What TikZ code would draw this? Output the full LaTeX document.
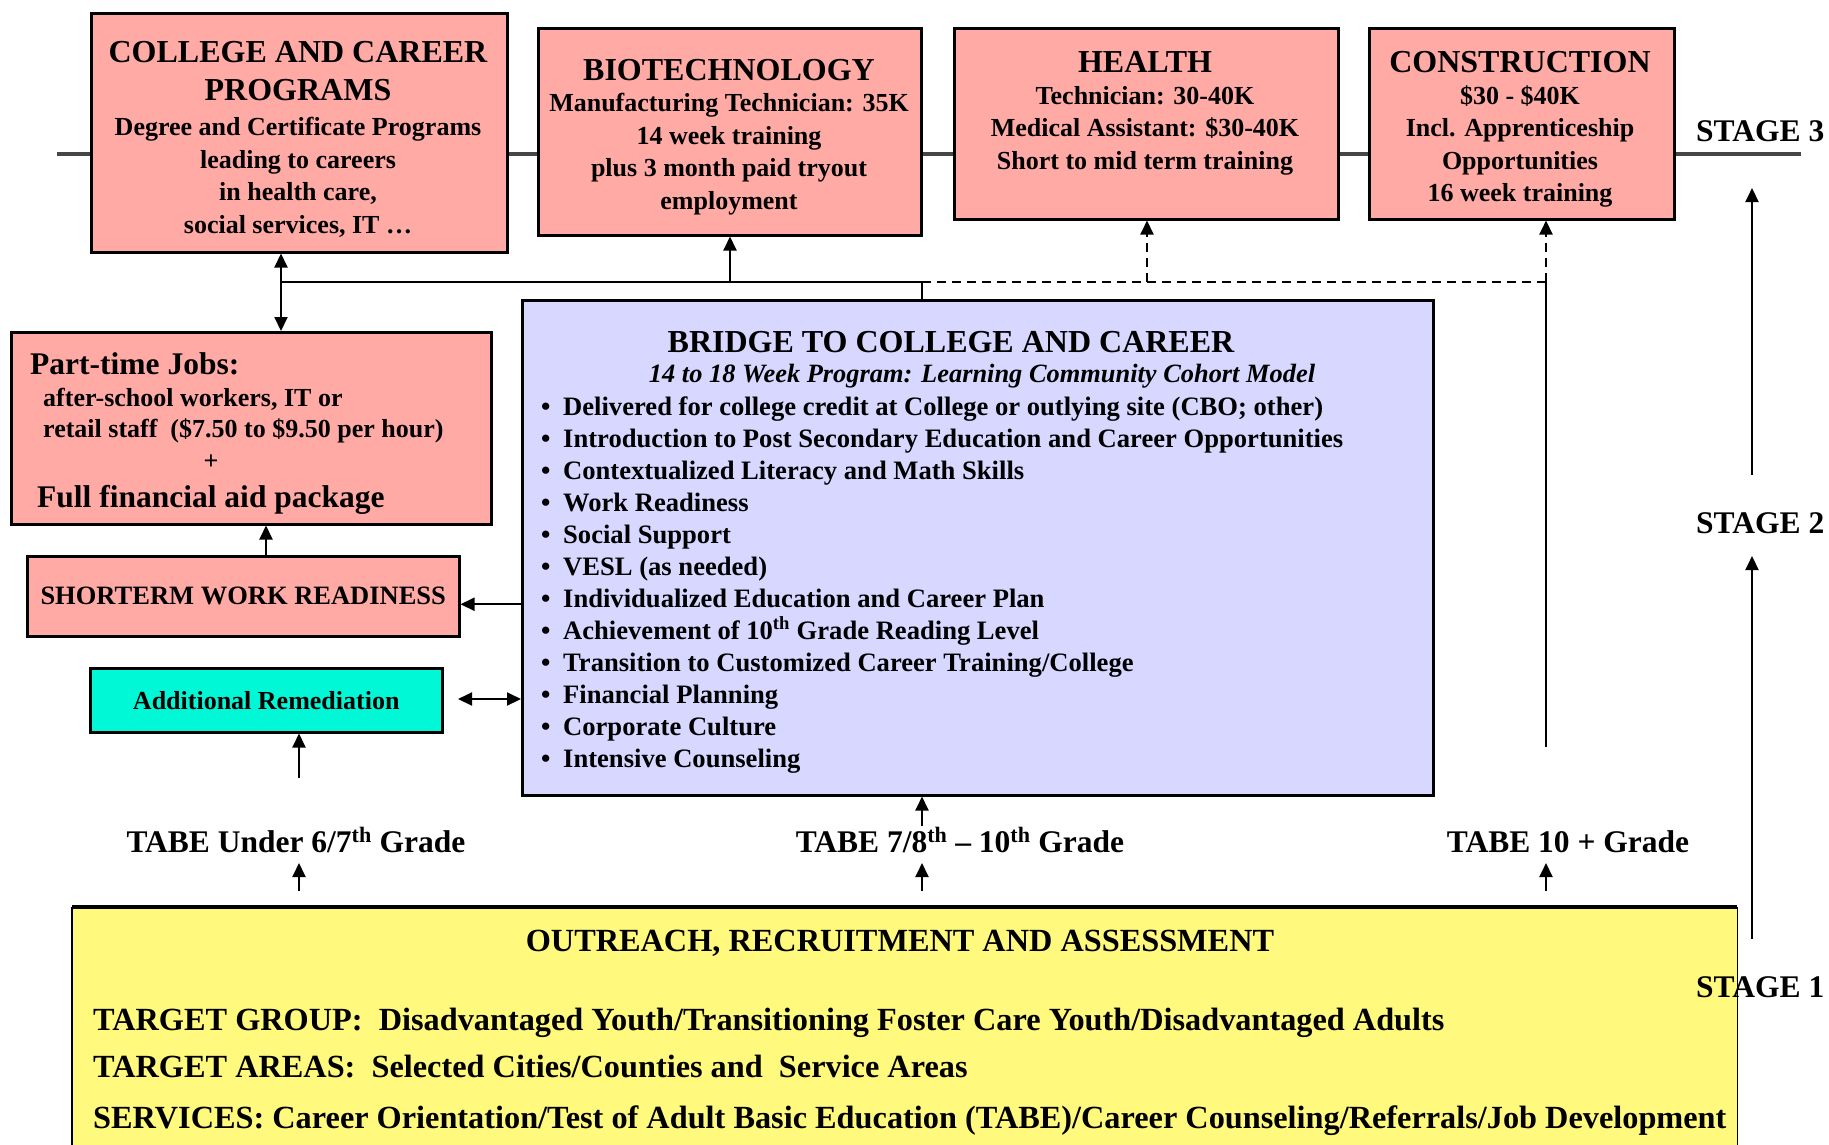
\documentclass[tikz,border=0pt]{standalone}
\usepackage{fontspec}
\setmainfont{Liberation Serif}
\usetikzlibrary{arrows.meta}
\definecolor{pinkc}{RGB}{255,170,165}
\definecolor{lavc}{RGB}{215,215,255}
\definecolor{yelc}{RGB}{255,250,125}
\definecolor{cyanc}{RGB}{0,248,215}
\definecolor{stagegray}{RGB}{70,70,70}
\tikzset{
  pbox/.style={draw=black, line width=2.5pt, fill=pinkc, inner sep=0pt, anchor=north west},
  ttl/.style={font=\fontsize{32}{38}\selectfont\bfseries, align=center, inner sep=0pt, anchor=north},
  bod/.style={font=\fontsize{26}{32.5}\selectfont\bfseries, align=center, inner sep=0pt, anchor=north},
  txt/.style={font=\fontsize{26}{32}\selectfont\bfseries, inner sep=0pt, anchor=base west},
  btxt/.style={font=\fontsize{26.6}{32}\selectfont\bfseries, inner sep=0pt, anchor=base west},
  big/.style={font=\fontsize{31.5}{38}\selectfont\bfseries, inner sep=0pt},
  ybig/.style={font=\fontsize{32.3}{38}\selectfont\bfseries, inner sep=0pt},
  conn/.style={line width=2pt, draw=black},
  arr/.style={conn, -{Triangle[length=14pt,width=13pt]}},
  darr/.style={conn, {Triangle[length=14pt,width=13pt]}-{Triangle[length=14pt,width=13pt]}},
  dasharr/.style={arr, dash pattern=on 9pt off 6pt},
}
\begin{document}
\begin{tikzpicture}[x=1pt,y=-1pt]
\useasboundingbox (0,0) rectangle (1829,1144);
\clip (0,0) rectangle (1829,1144);
\fill[white] (0,0) rectangle (1829,1144);

% stage 3 line
\coordinate (L0) at (57,154);
\coordinate (L1) at (1801,154);
\draw[stagegray, line width=3.5pt] (L0) -- (L1);

% top row boxes
\node[pbox, minimum width=416pt, minimum height=239pt] (college) at (90,12) {};
\node[pbox, minimum width=383pt, minimum height=207pt] (bio) at (537,27) {};
\node[pbox, minimum width=384pt, minimum height=191pt] (health) at (953,27) {};
\node[pbox, minimum width=305pt, minimum height=191pt] (constr) at (1368,27) {};

\node[ttl] (collegeT) at (298,41) {COLLEGE AND CAREER\\PROGRAMS};
\node[bod] (collegeB) at (298,117) {Degree and Certificate Programs\\leading to careers\\in health care,\\social services, IT …};
\node[ttl] (bioT) at (729,59) {BIOTECHNOLOGY};
\node[bod] (bioB) at (729,93) {Manufacturing Technician: 35K\\14 week training\\plus 3 month paid tryout\\employment};
\node[ttl] (healthT) at (1145,51) {HEALTH};
\node[bod] (healthB) at (1145,86) {Technician: 30-40K\\Medical Assistant: \$30-40K\\Short to mid term training};
\node[ttl] (constrT) at (1520,51) {CONSTRUCTION};
\node[bod] (constrB) at (1520,85) {\$30 - \$40K\\Incl. Apprenticeship\\Opportunities\\16 week training};

% stage labels
\node[big, anchor=base west] (st3) at (1696,141) {STAGE 3};
\node[big, anchor=base west] (st2) at (1696,533) {STAGE 2};

% left boxes
\node[pbox, minimum width=480pt, minimum height=192pt] (part) at (10,331) {};
\node[big, anchor=base west] (partT) at (30,374) {Part-time Jobs:};
\node[txt] (partA) at (43,406) {after-school workers, IT or};
\node[txt] (partB) at (43,437) {retail staff\ \ (\$7.50 to \$9.50 per hour)};
\node[txt, anchor=base] (partP) at (211,469) {+};
\node[big, anchor=base west] (partC) at (37,507) {Full financial aid package};

\node[pbox, minimum width=432pt, minimum height=80pt, font=\fontsize{26.5}{32}\selectfont\bfseries] (short) at (26,555) {SHORTERM WORK READINESS};
\node[pbox, fill=cyanc, minimum width=352pt, minimum height=64pt, font=\fontsize{26}{32}\selectfont\bfseries] (addl) at (89,667) {Additional Remediation};

% bridge box
\node[pbox, fill=lavc, minimum width=911pt, minimum height=495pt] (bridge) at (521,299) {};
\node[font=\fontsize{32}{38}\selectfont\bfseries, inner sep=0pt, anchor=base] (bridgeT) at (951,352) {BRIDGE TO COLLEGE AND CAREER};
\node[font=\fontsize{26.4}{32}\selectfont\bfseries\itshape, inner sep=0pt, anchor=base] (bridgeS) at (982,382) {14 to 18 Week Program: Learning Community Cohort Model};
\foreach \t [count=\i] in {
  {Delivered for college credit at College or outlying site (CBO; other)},
  {Introduction to Post Secondary Education and Career Opportunities},
  {Contextualized Literacy and Math Skills},
  {Work Readiness},
  {Social Support},
  {VESL (as needed)},
  {Individualized Education and Career Plan},
  {Achievement of 10\textsuperscript{th} Grade Reading Level},
  {Transition to Customized Career Training/College},
  {Financial Planning},
  {Corporate Culture},
  {Intensive Counseling}}
  \node[btxt] (b\i) at (541,{415+32*(\i-1)}) {\makebox[22pt][l]{\textbullet}\t};

% yellow box
\node[fill=yelc, inner sep=0pt, anchor=north west, minimum width=1665pt, minimum height=260pt] (yel) at (72,907) {};
\draw[line width=4pt] (yel.north west) -- (yel.north east);
\draw[line width=1.8pt] (yel.north west) -- (yel.south west);
\draw[line width=1.8pt] (yel.north east) -- (yel.south east);
\node[ybig, anchor=base] (yelT) at (900,951) {OUTREACH, RECRUITMENT AND ASSESSMENT};
\node[ybig, anchor=base west] (yelA) at (93,1030) {TARGET GROUP:\ \ Disadvantaged Youth/Transitioning Foster Care Youth/Disadvantaged Adults};
\node[ybig, anchor=base west] (yelB) at (93,1077) {TARGET AREAS:\ \ Selected Cities/Counties and\ \ Service Areas};
\node[ybig, anchor=base west] (yelC) at (93,1128) {SERVICES: Career Orientation/Test of Adult Basic Education (TABE)/Career Counseling/Referrals/Job Development};

\node[big, anchor=base west] (st1) at (1696,997) {STAGE 1};

% TABE labels
\node[big, anchor=base] (tabeA) at (296,852) {TABE Under 6/7\textsuperscript{th} Grade};
\node[big, anchor=base] (tabeB) at (960,852) {TABE 7/8\textsuperscript{th} – 10\textsuperscript{th} Grade};
\node[big, anchor=base] (tabeC) at (1568,852) {TABE 10 + Grade};

% connectors top
\coordinate (j1) at (281,282);
\coordinate (jb) at (730,282);
\coordinate (j2) at (922,282);
\coordinate (jh) at (1147,282);
\coordinate (jc) at (1546,282);
\coordinate (rc) at (1546,747);
\draw[conn] (j1) -- (j2);
\draw[conn, dash pattern=on 9pt off 6pt] (j2) -- (jc);
\draw[line width=1.3pt] (j2) -- (j2 |- bridge.north);
\draw[darr] (j1 |- college.south) -- (j1 |- part.north);
\draw[arr] (jb) -- (jb |- bio.south);
\draw[dasharr] (jh) -- (jh |- health.south);
\draw[dasharr] (jc) -- (jc |- constr.south);
\draw[line width=1.8pt] (rc) -- (jc);

% left connectors
\draw[arr] ([yshift=-8pt]bridge.west |- short.east) -- ([yshift=-8pt]short.east);
\coordinate (sp) at (266,555);
\draw[arr] (sp) -- (sp |- part.south);
\coordinate (ad) at (458,699);
\draw[darr] (ad) -- (ad -| bridge.west);
\coordinate (ra) at (299,778);
\draw[arr] (ra) -- (ra |- addl.south);
\coordinate (mb) at (922,826);
\draw[arr] (mb) -- (mb |- bridge.south);

% arrows from yellow box
\coordinate (ya) at (299,891);
\coordinate (yb) at (922,891);
\coordinate (yc) at (1546,891);
\draw[arr] (ya) -- (299,863);
\draw[arr] (yb) -- (922,863);
\draw[arr] (yc) -- (1546,863);

% stage arrows
\coordinate (s1a) at (1752,939);
\coordinate (s1b) at (1752,556);
\coordinate (s2a) at (1752,475);
\coordinate (s2b) at (1752,188);
\draw[arr] (s1a) -- (s1b);
\draw[arr] (s2a) -- (s2b);
\end{tikzpicture}
\end{document}
